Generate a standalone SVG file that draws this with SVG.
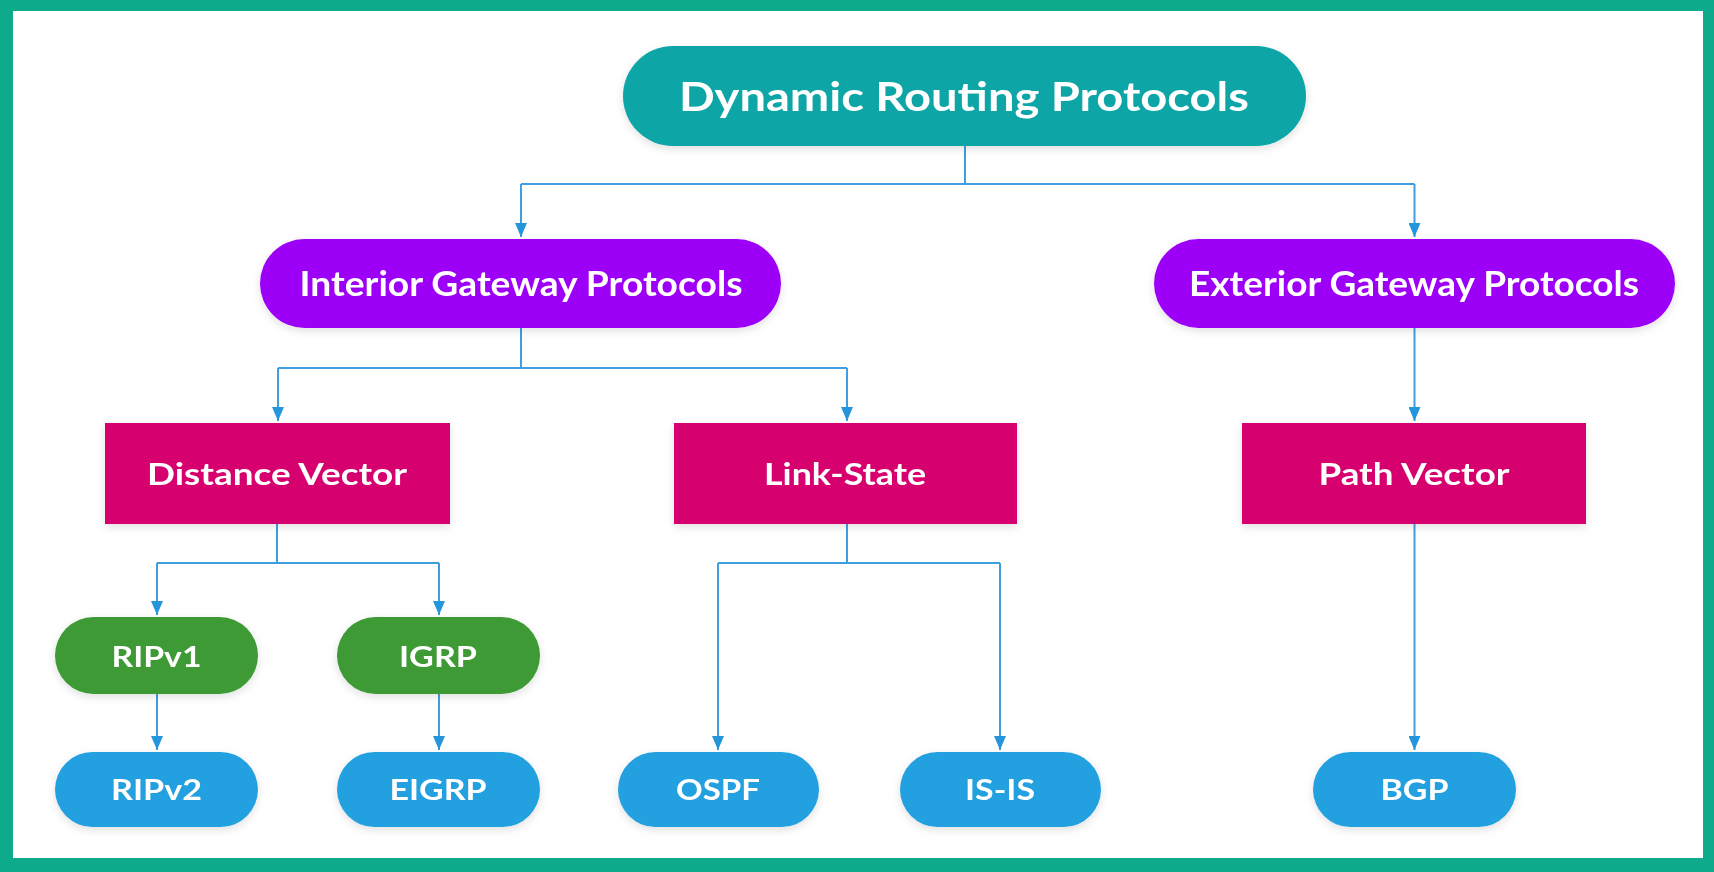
<svg xmlns="http://www.w3.org/2000/svg" width="1714" height="872" viewBox="0 0 1714 872">
<defs>
<style>
.t{font-family:Lato,"Open Sans","Liberation Sans",sans-serif;font-weight:bold;fill:#fff;text-anchor:middle}
.c{fill:none;stroke:#3d9fe0;stroke-width:2}
</style>
<marker id="ah" viewBox="0 0 14 12" refX="14" refY="6" markerWidth="14" markerHeight="12" markerUnits="userSpaceOnUse" orient="auto">
<path d="M0,0 L14,6 L0,12 Z" fill="#2596dc"/>
</marker>
<filter id="sh" x="-10%" y="-20%" width="120%" height="150%">
<feDropShadow dx="0" dy="3" stdDeviation="4" flood-color="#000" flood-opacity="0.12"/>
</filter>
</defs>
<rect x="0" y="0" width="1714" height="872" fill="#0daa8b"/>
<rect x="13" y="11" width="1690" height="847" fill="#ffffff"/>
<g id="connectors">
<path class="c" d="M965,146 V184 M521,184 H1414.5"/>
<path class="c" d="M521,184 V237" marker-end="url(#ah)"/>
<path class="c" d="M1414.5,184 V237" marker-end="url(#ah)"/>
<path class="c" d="M521,328 V368 M278,368 H847"/>
<path class="c" d="M278,368 V421" marker-end="url(#ah)"/>
<path class="c" d="M847,368 V421" marker-end="url(#ah)"/>
<path class="c" d="M1414.5,328 V421" marker-end="url(#ah)"/>
<path class="c" d="M277,524 V563 M157,563 H439"/>
<path class="c" d="M157,563 V615" marker-end="url(#ah)"/>
<path class="c" d="M439,563 V615" marker-end="url(#ah)"/>
<path class="c" d="M157,694 V750" marker-end="url(#ah)"/>
<path class="c" d="M439,694 V750" marker-end="url(#ah)"/>
<path class="c" d="M847,524 V563 M718,563 H1000"/>
<path class="c" d="M718,563 V750" marker-end="url(#ah)"/>
<path class="c" d="M1000,563 V750" marker-end="url(#ah)"/>
<path class="c" d="M1414.5,524 V750" marker-end="url(#ah)"/>
</g>
<g id="root" filter="url(#sh)">
<rect x="623" y="46" width="683" height="100" rx="50" fill="#0aa5a5"/>
<text class="t" x="964" y="111" font-size="41" textLength="570" lengthAdjust="spacingAndGlyphs">Dynamic Routing Protocols</text>
</g>
<g id="igp" filter="url(#sh)">
<rect x="260" y="239" width="521" height="89" rx="44.5" fill="#9d00f7"/>
<text class="t" x="521" y="296" font-size="34" textLength="443" lengthAdjust="spacingAndGlyphs">Interior Gateway Protocols</text>
</g>
<g id="egp" filter="url(#sh)">
<rect x="1154" y="239" width="521" height="89" rx="44.5" fill="#9d00f7"/>
<text class="t" x="1414" y="296" font-size="34" textLength="450" lengthAdjust="spacingAndGlyphs">Exterior Gateway Protocols</text>
</g>
<g id="distance-vector" filter="url(#sh)">
<rect x="105" y="423" width="345" height="101" fill="#d6006e"/>
<text class="t" x="277" y="485" font-size="31" textLength="260" lengthAdjust="spacingAndGlyphs">Distance Vector</text>
</g>
<g id="link-state" filter="url(#sh)">
<rect x="674" y="423" width="343" height="101" fill="#d6006e"/>
<text class="t" x="845" y="485" font-size="31" textLength="162" lengthAdjust="spacingAndGlyphs">Link-State</text>
</g>
<g id="path-vector" filter="url(#sh)">
<rect x="1242" y="423" width="344" height="101" fill="#d6006e"/>
<text class="t" x="1414" y="485" font-size="31" textLength="191" lengthAdjust="spacingAndGlyphs">Path Vector</text>
</g>
<g id="ripv1" filter="url(#sh)">
<rect x="55" y="617" width="203" height="77" rx="38.5" fill="#3c9a35"/>
<text class="t" x="156.5" y="667" font-size="29" textLength="90" lengthAdjust="spacingAndGlyphs">RIPv1</text>
</g>
<g id="igrp" filter="url(#sh)">
<rect x="337" y="617" width="203" height="77" rx="38.5" fill="#3c9a35"/>
<text class="t" x="438" y="667" font-size="29" textLength="78" lengthAdjust="spacingAndGlyphs">IGRP</text>
</g>
<g id="ripv2" filter="url(#sh)">
<rect x="55" y="752" width="203" height="75" rx="37.5" fill="#21a0e0"/>
<text class="t" x="156.5" y="800" font-size="29" textLength="91" lengthAdjust="spacingAndGlyphs">RIPv2</text>
</g>
<g id="eigrp" filter="url(#sh)">
<rect x="337" y="752" width="203" height="75" rx="37.5" fill="#21a0e0"/>
<text class="t" x="438" y="800" font-size="29" textLength="97" lengthAdjust="spacingAndGlyphs">EIGRP</text>
</g>
<g id="ospf" filter="url(#sh)">
<rect x="618" y="752" width="201" height="75" rx="37.5" fill="#21a0e0"/>
<text class="t" x="718" y="800" font-size="29" textLength="84" lengthAdjust="spacingAndGlyphs">OSPF</text>
</g>
<g id="is-is" filter="url(#sh)">
<rect x="900" y="752" width="201" height="75" rx="37.5" fill="#21a0e0"/>
<text class="t" x="1000" y="800" font-size="29" textLength="70" lengthAdjust="spacingAndGlyphs">IS-IS</text>
</g>
<g id="bgp" filter="url(#sh)">
<rect x="1313" y="752" width="203" height="75" rx="37.5" fill="#21a0e0"/>
<text class="t" x="1414.5" y="800" font-size="29" textLength="68" lengthAdjust="spacingAndGlyphs">BGP</text>
</g>
</svg>
